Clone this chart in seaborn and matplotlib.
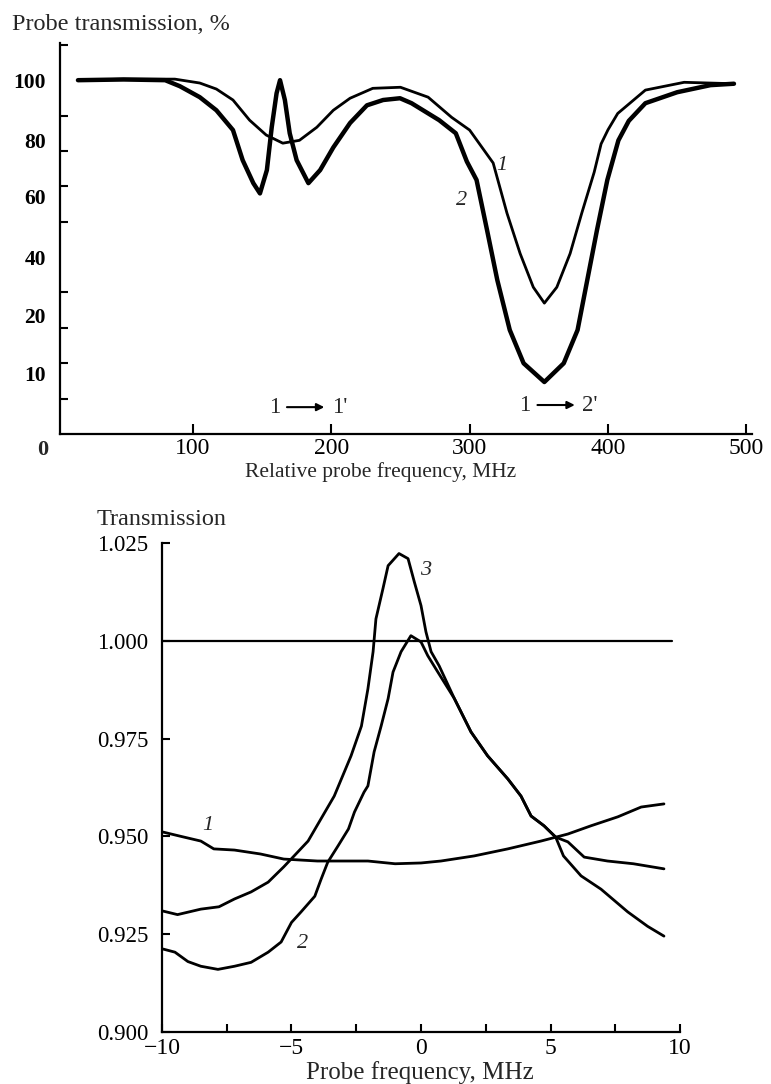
import matplotlib
matplotlib.use("Agg")
import matplotlib.pyplot as plt
from matplotlib.ticker import FixedLocator, NullFormatter
import seaborn as sns

# top panel: relative probe frequency (MHz) vs probe transmission (%)
freq_top1 = [17, 50, 87, 105, 117, 129, 141, 153, 165, 177, 189.6, 201.5, 213.6, 230, 250,
             270, 287, 300, 317, 327, 336.5, 346, 354, 363, 372.6, 381, 390, 395, 400, 407,
             427, 455, 491]
trans_top1 = [100, 100.3, 100.3, 99.2, 97.5, 94.4, 88.7, 84.5, 82.2, 83, 86.7, 91.5, 94.9, 97.7, 98,
              95.2, 89.5, 85.9, 76.6, 62.4, 51, 41.5, 37, 41.5, 51, 62.4, 74, 82, 86, 90.6,
              97.2, 99.4, 99]
freq_top2 = [17, 50, 80, 90.6, 105, 117, 129, 136, 143.7, 148.5, 153.5, 157, 160.5, 163, 166.5,
             170, 175, 183.5, 192, 201.5, 213.6, 225.8, 237.5, 249.7, 258, 278, 290, 298, 305,
             312.6, 320, 329, 339, 354, 368, 378, 385, 392, 399.5, 407.5, 415, 427, 450, 474, 491]
trans_top2 = [100, 100.2, 100, 98.3, 95.2, 91.5, 85.9, 77.4, 70.9, 68, 74.6, 86.7, 96.3, 100, 94.4,
              85, 77.4, 70.9, 74.6, 81, 87.9, 92.9, 94.4, 94.9, 93.5, 88.7, 85, 77, 71.8,
              57.6, 43.5, 29.4, 20, 14.7, 20, 29.4, 43.5, 57.6, 71.8, 83, 88.5, 93.5, 96.6, 98.6, 99]

# printed y labels of the top panel and the levels they sit at
top_label_pos = [100, 83, 67, 50, 33.6, 17.2]
top_label_txt = ["100", "80", "60", "40", "20", "10"]
top_minor = [10, 20, 30, 40, 50, 60, 70, 80, 90, 100, 110]
top_xticks = [100, 200, 300, 400, 500]

# bottom panel: probe frequency (MHz) vs transmission
freq_b1 = [-9.96, -9.27, -8.5, -8.0, -7.2, -6.2, -5.3, -4.0, -2.05, -1.0, 0, 0.77, 2.05, 3.35,
           4.63, 5.67, 6.56, 7.6, 8.5, 9.38]
trans_b1 = [0.9511, 0.950, 0.9488, 0.9468, 0.9465, 0.9455, 0.9442, 0.9437, 0.9437, 0.943, 0.9432,
            0.9437, 0.945, 0.9468, 0.9488, 0.9506, 0.9527, 0.955, 0.9575, 0.9583]
freq_b2 = [-9.96, -9.5, -9.0, -8.5, -7.84, -7.2, -6.56, -5.9, -5.4, -5.0, -4.63, -4.1, -3.86,
           -3.6, -3.2, -2.8, -2.57, -2.2, -2.05, -1.81, -1.54, -1.27, -1.08, -0.77, -0.39, 0,
           0.26, 0.65, 1.29, 1.93, 2.57, 3.35, 3.86, 4.25, 4.75, 5.2, 5.5, 6.18, 6.95, 7.98,
           8.75, 9.38]
trans_b2 = [0.9212, 0.9204, 0.918, 0.9168, 0.916, 0.9168, 0.9178, 0.9204, 0.923, 0.928, 0.9307,
            0.9347, 0.939, 0.9434, 0.9476, 0.9519, 0.9562, 0.9613, 0.9629, 0.9716, 0.9782,
            0.9852, 0.992, 0.9972, 1.0013, 0.9997, 0.9962, 0.992, 0.9852, 0.9767, 0.9706,
            0.9647, 0.9603, 0.9552, 0.9527, 0.9498, 0.945, 0.9399, 0.9365, 0.9307, 0.927, 0.9245]
freq_b3 = [-9.96, -9.4, -8.5, -7.8, -7.2, -6.56, -5.9, -5.3, -4.9, -4.36, -3.86, -3.35, -2.7,
           -2.3, -2.05, -1.85, -1.74, -1.47, -1.27, -0.85, -0.5, -0.26, 0, 0.19, 0.39, 0.7,
           1.29, 1.93, 2.57, 3.35, 3.86, 4.25, 4.75, 5.2, 5.67, 6.3, 7.2, 8.2, 9.38]
trans_b3 = [0.9309, 0.930, 0.9314, 0.932, 0.934, 0.9358, 0.9383, 0.9422, 0.945, 0.9488, 0.9545,
            0.9603, 0.9706, 0.9782, 0.9877, 0.9972, 1.0056, 1.0133, 1.0192, 1.0223, 1.021,
            1.0151, 1.009, 1.0023, 0.9972, 0.9936, 0.9852, 0.9767, 0.9706, 0.9647, 0.9603,
            0.9552, 0.9527, 0.9498, 0.9486, 0.9447, 0.9437, 0.943, 0.9417]

bot_yticks = [0.900, 0.925, 0.950, 0.975, 1.000, 1.025]
bot_xticks = [-10, -5, 0, 5, 10]
bot_xminor = [-7.5, -2.5, 2.5, 7.5]

sns.set_theme(style="white")
plt.rcParams["font.family"] = ["Liberation Serif", "DejaVu Serif"]
plt.rcParams["axes.unicode_minus"] = True

fig = plt.figure(figsize=(7.71, 10.84), dpi=100)
fig.patch.set_facecolor("white")

# ---------- top panel ----------
ax1 = fig.add_axes([0.0778, 0.5996, 0.8975, 0.3607])
sns.lineplot(x=freq_top1, y=trans_top1, ax=ax1, color="black", lw=2.0, estimator=None)
sns.lineplot(x=freq_top2, y=trans_top2, ax=ax1, color="black", lw=3.2, estimator=None)
ax1.set_xlim(4, 504)
ax1.set_ylim(0, 110.5)
for s in ["top", "right"]:
    ax1.spines[s].set_visible(False)
for s in ["left", "bottom"]:
    ax1.spines[s].set_color("black")
    ax1.spines[s].set_linewidth(1.6)
ax1.set_xticks(top_xticks)
ax1.set_xticklabels([str(v) for v in top_xticks])
ax1.yaxis.set_major_locator(FixedLocator(top_label_pos))
ax1.set_yticklabels(top_label_txt, fontweight="bold")
ax1.yaxis.set_minor_locator(FixedLocator(top_minor))
ax1.yaxis.set_minor_formatter(NullFormatter())
ax1.tick_params(axis="y", which="major", length=0, pad=10, labelsize=15.5, colors="black")
ax1.tick_params(axis="y", which="minor", direction="in", length=6, width=1.5, color="black", left=True)
ax1.tick_params(axis="x", which="major", direction="in", length=7, width=1.5, pad=3,
                labelsize=17, color="black", labelcolor="black", bottom=True)
ax1.set_xlabel("")
ax1.set_ylabel("")
ax1.text(-8.5, -4.5, "0", ha="center", va="center", fontsize=16, fontweight="bold",
         clip_on=False)
fig.text(12 / 771, 1 - 25 / 1084, "Probe transmission, %", ha="left", va="center", fontsize=17.5)
fig.text(381 / 771, 1 - 472 / 1084, "Relative probe frequency, MHz", ha="center", va="center",
         fontsize=15.5)

ax1.text(323.5, 76, "1", fontsize=16, fontstyle="italic", ha="center", va="center")
ax1.text(294.5, 66, "2", fontsize=16, fontstyle="italic", ha="center", va="center")
# transition labels with arrows
ax1.text(159, 7.6, "1", fontsize=16.5, ha="center", va="center")
ax1.text(206, 7.6, "1'", fontsize=16.5, ha="center", va="center")
ax1.annotate("", xy=(197, 7.6), xytext=(166, 7.6),
             arrowprops=dict(arrowstyle="-|>", color="black", lw=1.5, mutation_scale=11))
ax1.text(340, 8.2, "1", fontsize=16.5, ha="center", va="center")
ax1.text(387, 8.2, "2'", fontsize=16.5, ha="center", va="center")
ax1.annotate("", xy=(378, 8.2), xytext=(347, 8.2),
             arrowprops=dict(arrowstyle="-|>", color="black", lw=1.5, mutation_scale=11))

# ---------- bottom panel ----------
ax2 = fig.add_axes([0.2101, 0.048, 0.6719, 0.4511])
ax2.axhline(1.0, xmin=0, xmax=(9.7 + 10) / 20, color="black", lw=1.6)
sns.lineplot(x=freq_b1, y=trans_b1, ax=ax2, color="black", lw=2.0, estimator=None)
sns.lineplot(x=freq_b2, y=trans_b2, ax=ax2, color="black", lw=2.0, estimator=None)
sns.lineplot(x=freq_b3, y=trans_b3, ax=ax2, color="black", lw=2.0, estimator=None)
ax2.set_xlim(-10, 10)
ax2.set_ylim(0.9, 1.025)
for s in ["top", "right"]:
    ax2.spines[s].set_visible(False)
for s in ["left", "bottom"]:
    ax2.spines[s].set_color("black")
    ax2.spines[s].set_linewidth(1.6)
ax2.set_yticks(bot_yticks)
ax2.set_yticklabels(["%.3f" % v for v in bot_yticks])
ax2.set_xticks(bot_xticks)
ax2.set_xticklabels([str(v).replace("-", "\u2212") for v in bot_xticks])
ax2.xaxis.set_minor_locator(FixedLocator(bot_xminor))
ax2.xaxis.set_minor_formatter(NullFormatter())
ax2.tick_params(axis="y", which="major", direction="in", length=6, width=1.5, pad=10,
                labelsize=16.5, color="black", labelcolor="black", left=True)
ax2.tick_params(axis="x", which="major", direction="in", length=6, width=1.5, pad=4,
                labelsize=17, color="black", labelcolor="black", bottom=True)
ax2.tick_params(axis="x", which="minor", direction="in", length=6, width=1.5, color="black",
                bottom=True)
ax2.set_xlabel("")
ax2.set_ylabel("")
fig.text(97 / 771, 1 - 520 / 1084, "Transmission", ha="left", va="center", fontsize=17.5)
fig.text(420 / 771, 1 - 1073 / 1084, "Probe frequency, MHz", ha="center", va="center",
         fontsize=18)
ax2.text(-8.22, 0.9527, "1", fontsize=16, fontstyle="italic", ha="center", va="center")
ax2.text(-4.56, 0.9225, "2", fontsize=16, fontstyle="italic", ha="center", va="center")
ax2.text(0.19, 1.0179, "3", fontsize=16, fontstyle="italic", ha="center", va="center")

fig.savefig("out.png", dpi=100, facecolor="white")
